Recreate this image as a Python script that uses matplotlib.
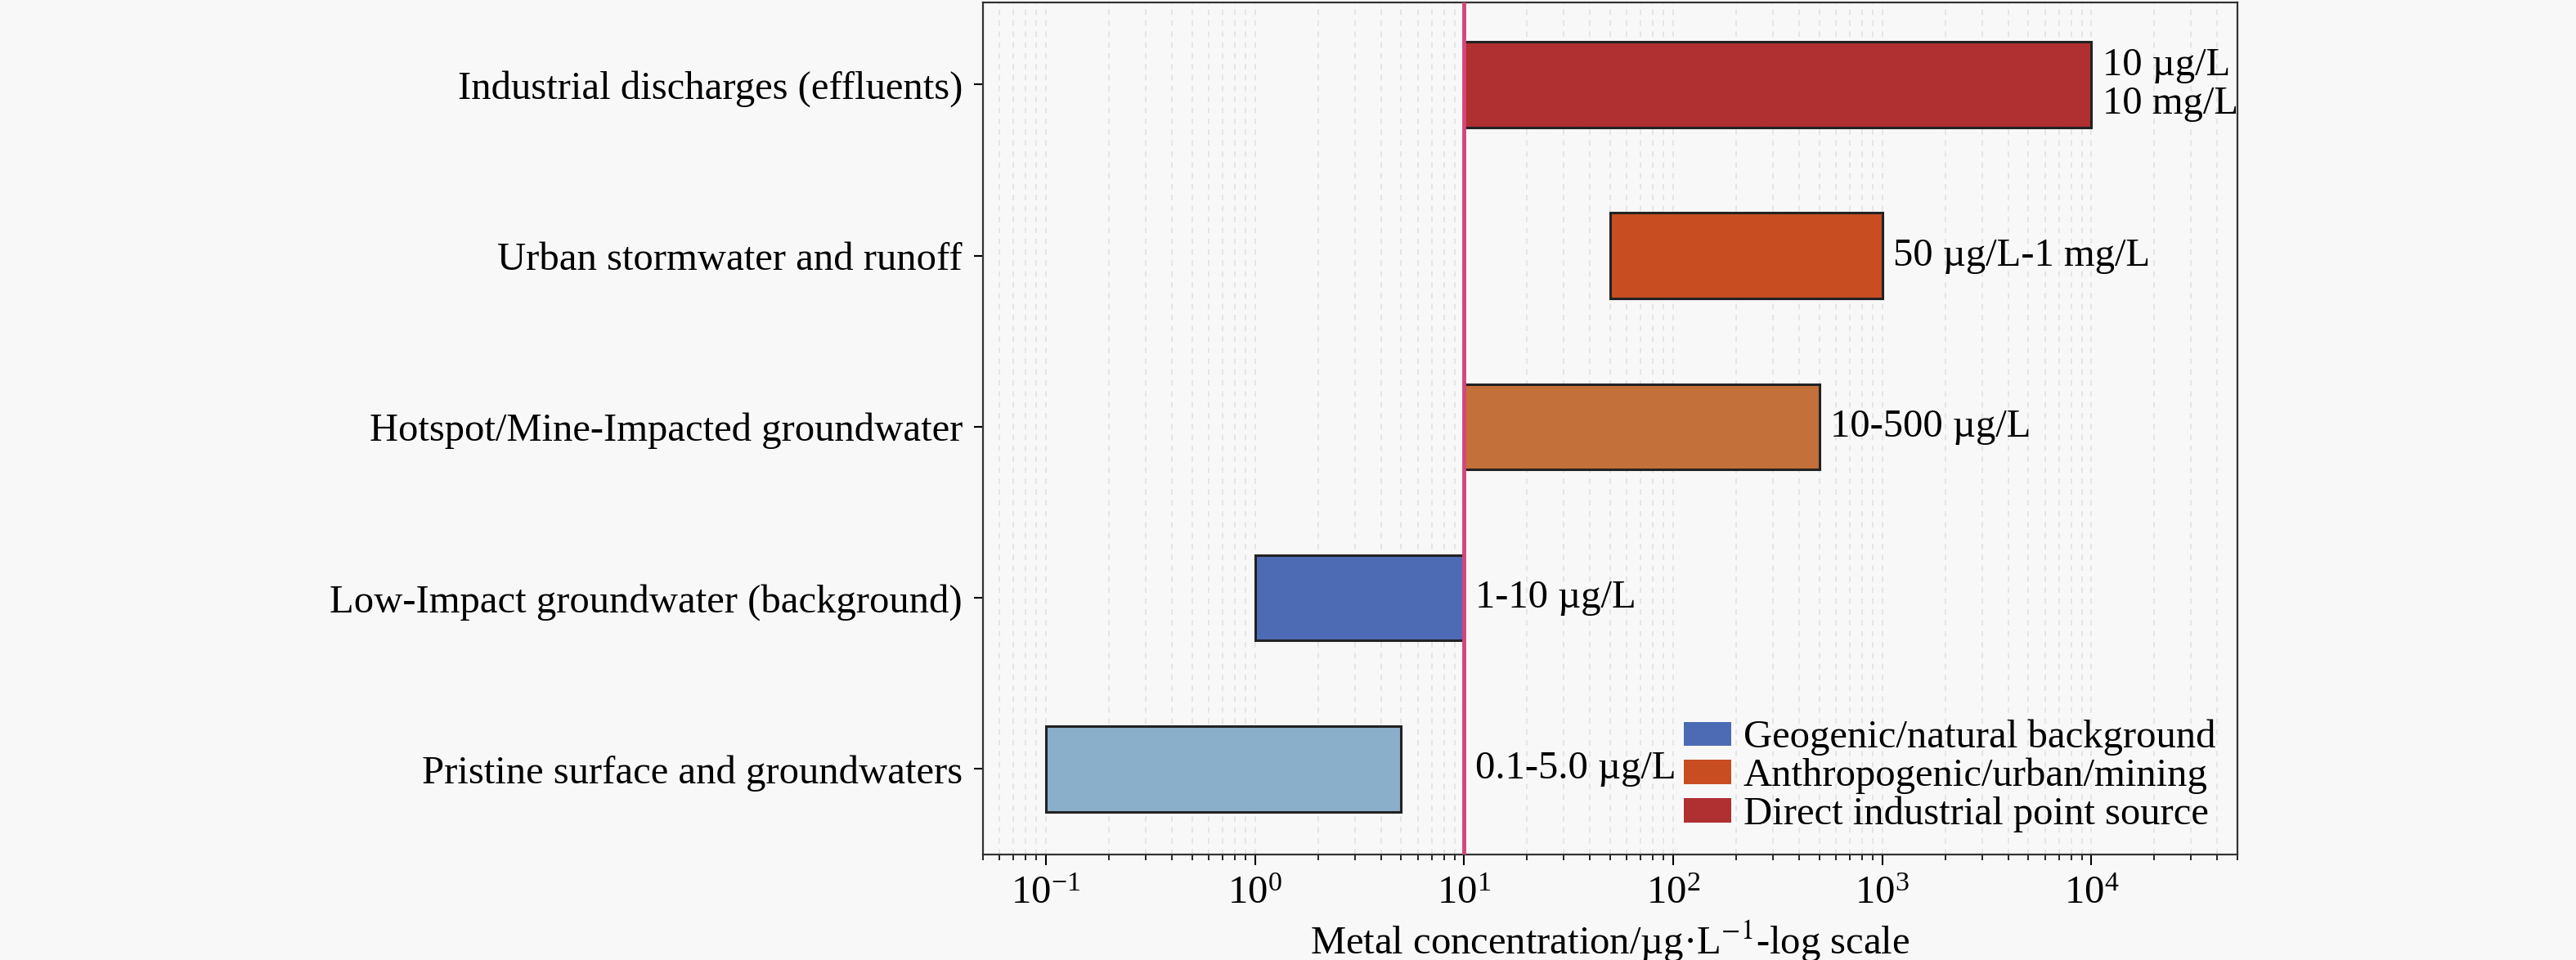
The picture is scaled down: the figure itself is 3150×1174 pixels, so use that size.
import matplotlib
matplotlib.use("Agg")
import matplotlib.pyplot as plt
from matplotlib.patches import Patch

plt.rcParams['font.family'] = ['Liberation Serif', 'DejaVu Serif']
plt.rcParams['mathtext.fontset'] = 'stix'

# data, bottom row first
categories = [
    "Pristine surface and groundwaters",
    "Low-Impact groundwater (background)",
    "Hotspot/Mine-Impacted groundwater",
    "Urban stormwater and runoff",
    "Industrial discharges (effluents)",
]
low = [0.1, 1, 10, 50, 10]
high = [5.0, 10, 500, 1000, 10000]
range_labels = ["0.1-5.0 µg/L", "1-10 µg/L", "10-500 µg/L",
                "50 µg/L-1 mg/L", "10 µg/L\n10 mg/L"]
bar_colors = ["#8aafcb", "#4d6ab5", "#c4703a", "#c84e22", "#b03032"]

legend_names = ["Geogenic/natural background",
                "Anthropogenic/urban/mining",
                "Direct industrial point source"]
legend_colors = ["#4d6ab5", "#c84e22", "#b03032"]

threshold = 10

bg = "#f8f8f8"
fs = 35

fig = plt.figure(figsize=(31.5, 11.74), dpi=100, facecolor=bg)
ax = fig.add_axes([0.3816, 0.1099, 0.4870, 0.8875], facecolor=bg)

ypos = list(range(len(categories)))
widths = [h - l for l, h in zip(low, high)]
ax.barh(ypos, widths, left=low, height=0.5, color=bar_colors,
        edgecolor="#222222", linewidth=2.2, zorder=2)

ax.axvline(threshold, color="#d6457a", linewidth=3.5, zorder=3)

for y, hi, txt in zip(ypos, high, range_labels):
    ax.text(max(hi, threshold) * 1.13, y, txt, va="center", ha="left",
            fontsize=fs, linespacing=1.1, zorder=4)

ax.set_xscale("log")
ax.set_xlim(0.05, 5e4)
ax.set_ylim(-0.5, 4.48)
ax.set_yticks(ypos)
ax.set_yticklabels(categories, fontsize=fs)
ax.tick_params(axis="x", which="major", labelsize=fs, length=9, width=1.5, pad=10)
ax.tick_params(axis="x", which="minor", length=5, width=1.2)
ax.tick_params(axis="y", length=8, width=1.5, pad=10)

ax.grid(True, which="both", axis="x", linestyle=(0, (4, 4)),
        color="#e2e2e2", linewidth=1.2)
ax.set_axisbelow(True)
for s in ax.spines.values():
    s.set_color("#333333")
    s.set_linewidth(1.6)

ax.set_xlabel(r"Metal concentration/µg·L$^{-1}$-log scale", fontsize=fs, labelpad=6)

handles = [Patch(facecolor=c, edgecolor="none") for c in legend_colors]
ax.legend(handles, legend_names, loc="lower right", frameon=False, fontsize=fs,
          handlelength=1.2, handleheight=0.55, labelspacing=0.05,
          handletextpad=0.3, borderaxespad=0.15)

fig.savefig("out.png", dpi=100, facecolor=bg)
